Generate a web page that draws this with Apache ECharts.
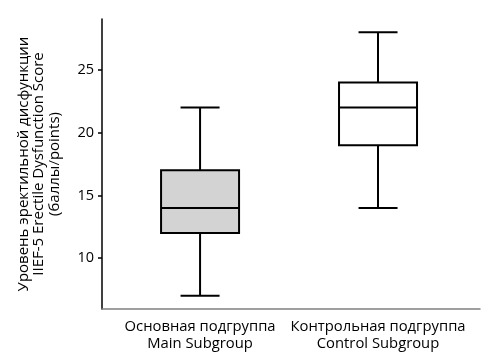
<!DOCTYPE html>
<html>
<head>
<meta charset="utf-8">
<script src="https://cdn.jsdelivr.net/npm/echarts@6/dist/echarts.min.js"></script>
<style>html,body{margin:0;padding:0;background:#fff}#c{width:491px;height:364px}</style>
</head>
<body>
<div id="c"></div>
<script>
const categories = ['Основная подгруппа\nMain Subgroup', 'Контрольная подгруппа\nControl Subgroup'];
const mins    = [7, 14];
const q1s     = [12, 19];
const medians = [14, 22];
const q3s     = [17, 24];
const maxs    = [22, 28];
const yTicks  = [10, 15, 20, 25];
const fills   = ['#d3d3d3', '#ffffff'];

const BOX_W = 78, CAP_W = 39, LW = 2;
const FONT = 'Open Sans';

const data = categories.map((c, i) => [i + 1, mins[i], q1s[i], medians[i], q3s[i], maxs[i]]);

const chart = echarts.init(document.getElementById('c'), null, {renderer: 'canvas'});
chart.setOption({
  animation: false,
  backgroundColor: '#fff',
  grid: {left: 102, right: 11, top: 19, bottom: 55, containLabel: false},
  xAxis: {
    type: 'value', min: 0.449, max: 2.573,
    splitLine: {show: false},
    axisLine: {show: true, lineStyle: {color: '#808080', width: 1.5}},
    axisTick: {show: false},
    axisLabel: {
      show: true, customValues: [1, 2], margin: 9, lineHeight: 17,
      fontFamily: FONT, fontSize: 14.8, color: '#000',
      formatter: v => categories[Math.round(v) - 1] || ''
    }
  },
  yAxis: {
    type: 'value', min: 5.95, max: 29.05,
    splitLine: {show: false},
    axisLine: {show: true, lineStyle: {color: '#000', width: 1.5}},
    axisTick: {show: true, length: 4, customValues: yTicks, lineStyle: {color: '#000', width: 1.5}},
    axisLabel: {show: true, customValues: yTicks, margin: 8, fontFamily: FONT, fontSize: 14.5, color: '#000'},
    name: 'Уровень эректильной дисфункции\nIIEF-5 Erectile Dysfunction Score\n(баллы/points)',
    nameLocation: 'middle', nameGap: 40, nameRotate: 90,
    nameTextStyle: {fontFamily: FONT, fontSize: 15, color: '#000', lineHeight: 15.5, align: 'center'}
  },
  series: [{
    type: 'custom',
    data: data,
    encode: {x: 0, y: [1, 2, 3, 4, 5]},
    renderItem: function (params, api) {
      const x = api.value(0);
      const lo = api.coord([x, api.value(1)]);
      const q1 = api.coord([x, api.value(2)]);
      const md = api.coord([x, api.value(3)]);
      const q3 = api.coord([x, api.value(4)]);
      const hi = api.coord([x, api.value(5)]);
      const cx = lo[0], hw = BOX_W / 2, cw = CAP_W / 2;
      const st = {stroke: '#000', lineWidth: LW, fill: null};
      return {type: 'group', children: [
        {type: 'line', shape: {x1: cx, y1: lo[1], x2: cx, y2: q1[1]}, style: st},
        {type: 'line', shape: {x1: cx, y1: q3[1], x2: cx, y2: hi[1]}, style: st},
        {type: 'line', shape: {x1: cx - cw, y1: lo[1], x2: cx + cw, y2: lo[1]}, style: st},
        {type: 'line', shape: {x1: cx - cw, y1: hi[1], x2: cx + cw, y2: hi[1]}, style: st},
        {type: 'rect', shape: {x: cx - hw, y: q3[1], width: BOX_W, height: q1[1] - q3[1]},
          style: {fill: fills[params.dataIndex], stroke: '#000', lineWidth: LW}},
        {type: 'line', shape: {x1: cx - hw, y1: md[1], x2: cx + hw, y2: md[1]}, style: st}
      ]};
    }
  }]
});
</script>
</body>
</html>
